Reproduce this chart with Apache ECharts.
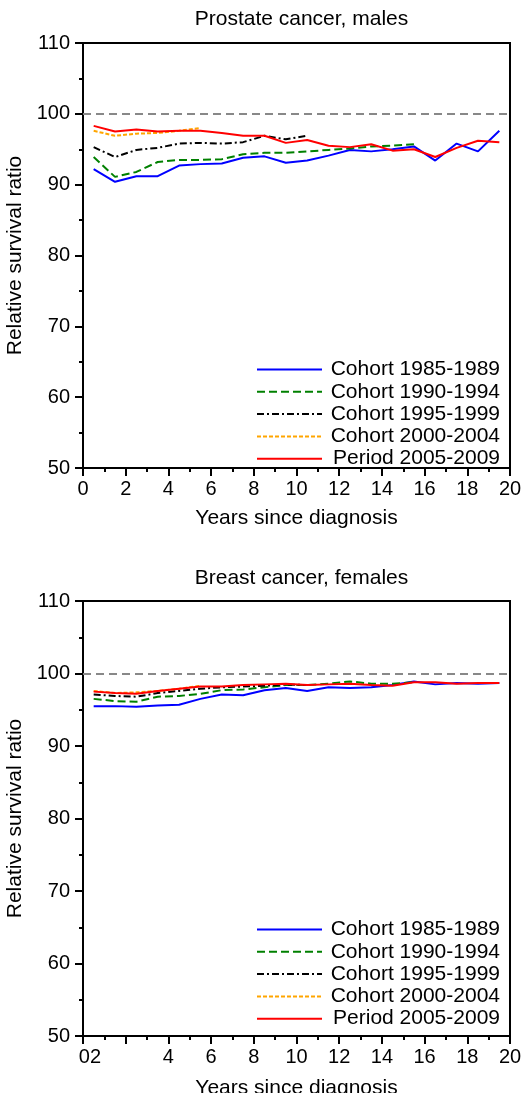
<!DOCTYPE html>
<html><head><meta charset="utf-8">
<script src="https://cdn.jsdelivr.net/npm/echarts@6/dist/echarts.min.js"></script>
<style>html,body{margin:0;padding:0;background:#fff}#c{width:523px;height:1093px}</style>
</head><body><div id="c"></div>
<script>
const years = [0.5,1.5,2.5,3.5,4.5,5.5,6.5,7.5,8.5,9.5,10.5,11.5,12.5,13.5,14.5,15.5,16.5,17.5,18.5,19.5];
const seriesNames = ['Cohort 1985-1989','Cohort 1990-1994','Cohort 1995-1999','Cohort 2000-2004','Period 2005-2009'];
// Prostate cancer, males
const prostate1985 = [92.2,90.4,91.2,91.2,92.7,92.9,93.0,93.8,94.0,93.1,93.4,94.1,94.9,94.7,95.0,95.4,93.4,95.8,94.7,97.6];
const prostate1990 = [93.9,91.1,91.8,93.2,93.5,93.5,93.6,94.3,94.5,94.5,94.7,94.9,95.1,95.4,95.5,95.7];
const prostate1995 = [95.3,93.9,94.9,95.2,95.8,95.9,95.8,96.0,96.9,96.4,96.9];
const prostate2000 = [97.6,96.9,97.2,97.3,97.6,98.0];
const prostatePeriod = [98.3,97.5,97.8,97.5,97.6,97.6,97.3,96.9,96.9,95.9,96.3,95.5,95.3,95.7,94.8,95.0,93.9,95.2,96.2,96.0];
// Breast cancer, females
const breast1985 = [95.5,95.5,95.4,95.6,95.7,96.5,97.1,97.0,97.7,98.0,97.6,98.1,98.0,98.1,98.4,98.9,98.5,98.7,98.6,98.7];
const breast1990 = [96.5,96.2,96.1,96.8,96.9,97.2,97.7,97.8,98.1,98.4,98.4,98.6,98.9,98.6,98.6,98.8];
const breast1995 = [97.1,96.9,96.8,97.3,97.6,97.9,98.1,98.2,98.3,98.5,98.4];
const breast2000 = [97.6,97.3,97.4,97.6,97.9,98.3];
const breastPeriod = [97.5,97.3,97.2,97.6,97.9,98.2,98.2,98.4,98.5,98.6,98.4,98.5,98.6,98.4,98.3,98.8,98.8,98.6,98.7,98.7];
const yTicks = ['50','60','70','80','90','100','110'];
const topXLabels = ['0','2','4','6','8','10','12','14','16','18','20'];
const bottomXLabels = ['02','','4','6','8','10','12','14','16','18','20'];
const referenceLevel = 100;

const FONT = 'Liberation Sans';
const styles = [
  {color:'#0000ff', type:'solid'},
  {color:'#008000', type:[8,4]},
  {color:'#000000', type:[7,3,2,3]},
  {color:'#ffa500', type:[4,2]},
  {color:'#ff0000', type:'solid'}
];
function pairs(arr){ return arr.map((v,i)=>[years[i], v]); }

const chart = echarts.init(document.getElementById('c'), null, {renderer:'canvas'});
const grids = [
  {left:83, top:43, width:427, height:425},
  {left:83, top:601, width:427, height:435}
];
function xAxis(gi, labels, gap){
  return {
    type:'value', gridIndex:gi, min:0, max:20, interval:2,
    axisLine:{show:true, onZero:false, lineStyle:{color:'#000', width:2}},
    axisTick:{show:true, length:8, lineStyle:{color:'#000', width:2}},
    minorTick:{show:true, splitNumber:2, length:4, lineStyle:{color:'#000', width:2}},
    splitLine:{show:false},
    axisLabel:{margin:11, color:'#000', fontFamily:FONT, fontSize:20,
      formatter:function(v){ const s = labels[Math.round(v/2)]; return s==='02' ? '{l|02}' : s; },
      rich:{l:{width:36, align:'right', fontFamily:FONT, fontSize:20, color:'#000'}}},
    name:'Years since diagnosis', nameLocation:'middle', nameGap:gap,
    nameTextStyle:{color:'#000', fontFamily:FONT, fontSize:21}
  };
}
function yAxis(gi){
  return {
    type:'value', gridIndex:gi, min:50, max:110, interval:10,
    axisLine:{show:true, lineStyle:{color:'#000', width:2}},
    axisTick:{show:true, length:8, lineStyle:{color:'#000', width:2}},
    minorTick:{show:true, splitNumber:2, length:4, lineStyle:{color:'#000', width:2}},
    splitLine:{show:false},
    axisLabel:{margin:13, color:'#000', fontFamily:FONT, fontSize:20,
      formatter:function(v){ return yTicks[Math.round((v-50)/10)]; }},
    name:'Relative survival ratio', nameLocation:'middle', nameGap:51,
    nameTextStyle:{color:'#000', fontFamily:FONT, fontSize:21}
  };
}
const sets = [
  [prostate1985, prostate1990, prostate1995, prostate2000, prostatePeriod],
  [breast1985, breast1990, breast1995, breast2000, breastPeriod]
];
const series = [];
sets.forEach((set, gi)=>{
  set.forEach((arr, si)=>{
    const s = {
      type:'line', name:seriesNames[si], xAxisIndex:gi, yAxisIndex:gi,
      data:pairs(arr), symbol:'none', z:3+si,
      lineStyle:{color:styles[si].color, type:styles[si].type, width:2},
      itemStyle:{color:styles[si].color}
    };
    if(si===0){
      s.markLine = {silent:true, symbol:'none', label:{show:false},
        lineStyle:{color:'#888', type:[8,5], width:2},
        data:[{yAxis:referenceLevel}]};
    }
    series.push(s);
  });
});
function legend(top){
  return {
    orient:'vertical', left:251, top:top, itemWidth:65, itemHeight:14, itemGap:1.3,
    data:seriesNames,
    itemStyle:{opacity:0},
    formatter:function(n){ return '{t|'+n+'}'; },
    textStyle:{rich:{t:{width:173, align:'right', fontFamily:FONT, fontSize:21, lineHeight:20, color:'#000'}}},
    selectedMode:false
  };
}
chart.setOption({
  animation:false,
  backgroundColor:'#fff',
  title:[
    {text:'Prostate cancer, males', left:296.5, textAlign:'center', top:4,
      textStyle:{fontFamily:FONT, fontSize:21, fontWeight:'normal', color:'#000'}},
    {text:'Breast cancer, females', left:296.5, textAlign:'center', top:563,
      textStyle:{fontFamily:FONT, fontSize:21, fontWeight:'normal', color:'#000'}}
  ],
  grid:grids.map(g=>Object.assign({show:true, borderColor:'#000', borderWidth:2, backgroundColor:'transparent', containLabel:false, outerBoundsMode:'none'}, g)),
  xAxis:[xAxis(0, topXLabels, 40), xAxis(1, bottomXLabels, 42)],
  yAxis:[yAxis(0), yAxis(1)],
  legend:[legend(354), legend(914)],
  series:series
});
</script></body></html>
